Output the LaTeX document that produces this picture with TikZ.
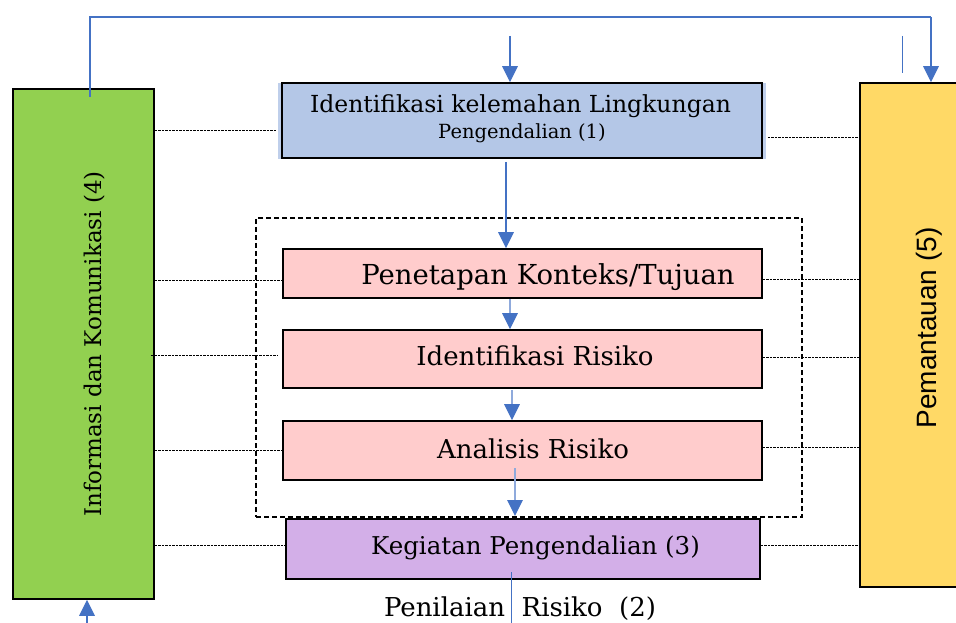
\documentclass[tikz,border=0pt]{standalone}
\usepackage{fontspec}
\setmainfont{DejaVu Serif}
\newfontfamily\sansf{Liberation Sans}
\usetikzlibrary{arrows.meta}
\definecolor{arrblue}{HTML}{4472C4}
\definecolor{lightarr}{HTML}{8FAADC}
\definecolor{greenbox}{HTML}{92D050}
\definecolor{yellowbox}{HTML}{FFD966}
\definecolor{bluebox}{HTML}{B4C7E7}
\definecolor{pinkbox}{HTML}{FFCCCC}
\definecolor{purplebox}{HTML}{D3AFE8}
\tikzset{
  box/.style={draw=black, line width=1.6pt, inner sep=0pt},
  dline/.style={draw=black, line width=0.9pt, dash pattern=on 2.2pt off 1.3pt},
  bline/.style={draw=arrblue, line width=1.4pt},
  arr/.style={draw=arrblue, line width=1.4pt, -{Triangle[width=15.5pt,length=16pt,fill=arrblue,color=arrblue]}},
  larr/.style={draw=lightarr, line width=1.4pt, -{Triangle[width=15.5pt,length=16pt,fill=arrblue,color=arrblue]}},
  txt/.style={inner sep=0pt, text=black},
}
\begin{document}
\begin{tikzpicture}[x=1pt,y=-1pt]
\useasboundingbox[fill=white] (0,0) rectangle (956,623);

% side boxes
\node[box, fill=greenbox, minimum width=141pt, minimum height=510pt] (green) at (83.5,344) {};
\node[box, fill=yellowbox, minimum width=100pt, minimum height=504pt] (yellow) at (910,335) {};

% dashed group
\node[draw=black, line width=1.6pt, dash pattern=on 5pt off 3pt, minimum width=546pt, minimum height=299pt, inner sep=0pt] (group) at (529,367.5) {};

% central boxes
\fill[bluebox!85!white] (278,83) rectangle (766,159);
\node[box, fill=bluebox, minimum width=480pt, minimum height=75pt] (blue) at (522,120.5) {};
\node[box, fill=pinkbox, minimum width=479pt, minimum height=49pt] (pen) at (522.5,273.5) {};
\node[box, fill=pinkbox, minimum width=479pt, minimum height=58pt] (idr) at (522.5,359) {};
\node[box, fill=pinkbox, minimum width=479pt, minimum height=59pt] (ana) at (522.5,450.5) {};
\node[box, fill=purplebox, minimum width=474pt, minimum height=60pt] (keg) at (523,549) {};

% texts
\node[txt, rotate=90] (t4) at (95,344) {\fontsize{23}{26}\selectfont Informasi dan Komunikasi (4)};
\node[txt, rotate=90] (t5) at (929,328) {\sansf\fontsize{28}{32}\selectfont Pemantauan (5)};
\node[txt] (t1a) at (520.5,106) {\fontsize{23.5}{27}\selectfont Identifikasi kelemahan Lingkungan};
\node[txt] (t1b) at (522,133) {\fontsize{19.5}{23}\selectfont Pengendalian (1)};
\node[txt] (tpen) at (548,277) {\fontsize{27.5}{31}\selectfont Penetapan Konteks/Tujuan};
\node[txt] (tidr) at (535,356) {\fontsize{26}{30}\selectfont Identifikasi Risiko};
\node[txt] (tana) at (533,449) {\fontsize{26}{30}\selectfont Analisis Risiko};
\node[txt] (tkeg) at (535.5,548) {\fontsize{24.5}{28}\selectfont Kegiatan Pengendalian (3)};
\node[txt] (tpen2) at (520,609) {\fontsize{26}{29}\selectfont Penilaian\ \ Risiko\ \ (2)};

% dashed link lines
\draw[dline] ([yshift=-9.5pt]green.east |- blue.west) -- ([yshift=-9.5pt,xshift=-4pt]blue.west);
\draw[dline] ([yshift=-16.5pt,xshift=5pt]blue.east) -- ([yshift=-16.5pt]yellow.west |- blue.east);
\draw[dline] ([yshift=-6.5pt]green.east |- pen.west) -- ([yshift=-6.5pt]pen.west);
\draw[dline] ([yshift=-5.5pt]pen.east) -- ([yshift=-5.5pt]yellow.west |- pen.east);
\draw[dline] ([yshift=4pt,xshift=-4pt]green.east |- idr.west) -- ([yshift=4pt,xshift=-5pt]idr.west);
\draw[dline] ([yshift=2pt]idr.east) -- ([yshift=2pt]yellow.west |- idr.east);
\draw[dline] ([yshift=0.5pt]green.east |- ana.west) -- ([yshift=0.5pt]ana.west);
\draw[dline] ([yshift=3.5pt]ana.east) -- ([yshift=3.5pt]yellow.west |- ana.east);
\draw[dline] ([yshift=4pt]green.east |- keg.west) -- ([yshift=4pt]keg.west);
\draw[dline] ([yshift=4pt]keg.east) -- ([yshift=4pt]yellow.west |- keg.east);

% blue connectors
\coordinate (gstart) at (90,97);
\coordinate (topright) at (931,17);
\draw[bline] (gstart) |- (topright);
\draw[arr] (topright) -- (topright |- yellow.north);
\coordinate (stray) at (902,36);
\draw[bline, line width=1pt] (stray) -- (902,73);
\coordinate (topin) at (510,36);
\draw[arr] (topin) -- (topin |- blue.north);
\coordinate (bluebot) at (506,162);
\draw[arr] (bluebot) -- (bluebot |- pen.north);
\coordinate (a2) at (510,299);
\draw[larr] (a2) -- (a2 |- idr.north);
\coordinate (a3) at (512,390);
\draw[larr] (a3) -- (a3 |- ana.north);
\coordinate (a4) at (515,468);
\draw[larr] (a4) -- (515,516);
\coordinate (bl) at (87,623);
\draw[arr] (bl) -- (bl |- green.south);
\coordinate (kb) at (511,572);
\draw[bline, line width=1pt] (kb) -- (511,623);
\end{tikzpicture}
\end{document}
